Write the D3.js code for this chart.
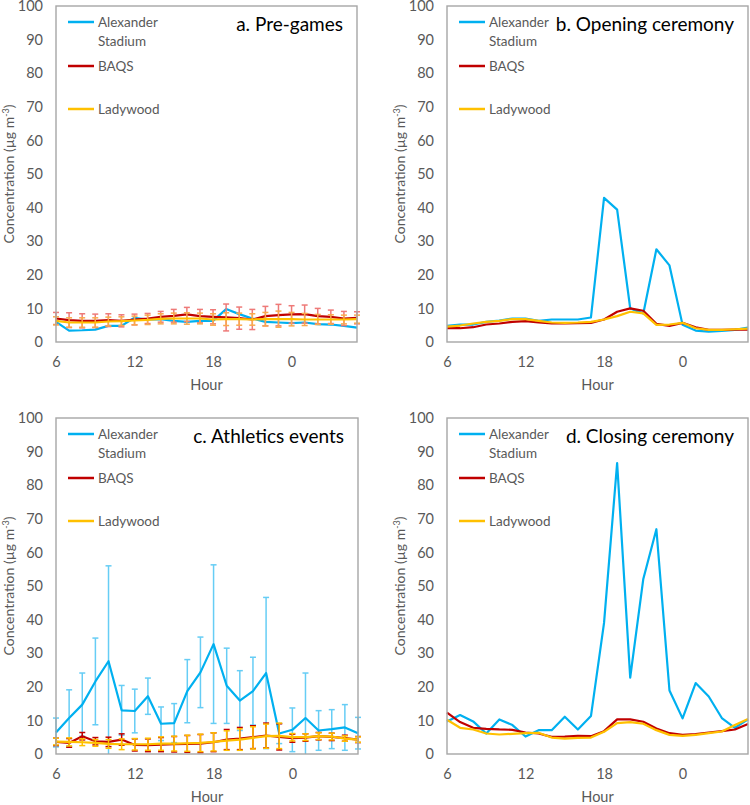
<!DOCTYPE html>
<html>
<head>
<meta charset="utf-8">
<script src="https://cdn.jsdelivr.net/npm/d3@7"></script>
<style>
  body { margin: 0; background: #fff; }
  svg { display: block; font-family: Lato, "Open Sans", sans-serif; }
</style>
</head>
<body>
<svg id="chart" width="750" height="805"></svg>
<script>
// hour of day for each point (6 am to 5 am next day)
var hours = [6,7,8,9,10,11,12,13,14,15,16,17,18,19,20,21,22,23,0,1,2,3,4,5];
var xTickIdx = [0, 6, 12, 18];
var yTicks = [0,10,20,30,40,50,60,70,80,90,100];
var seriesNames = ["Alexander Stadium", "BAQS", "Ladywood"];

// a. Pre-games
var preAlex = [6.0,3.4,3.5,3.7,4.8,4.8,7.2,6.7,6.8,6.3,6.0,6.3,6.3,9.8,8.3,7.0,6.0,5.8,5.6,5.8,5.3,5.2,4.8,4.3];
var preBaqs = [7.0,6.5,6.3,6.3,6.5,6.3,6.7,7.0,7.5,7.8,8.2,7.7,7.5,7.3,7.1,6.7,7.7,8.0,8.2,8.3,7.7,7.5,7.0,7.2];
var preLady = [6.3,5.8,5.8,5.8,6.1,6.2,6.4,6.6,6.9,7.0,7.0,7.0,6.7,6.8,6.8,6.7,6.8,6.8,6.8,6.7,6.7,6.7,6.7,6.8];
var preBaqsSd = [1.8,2.2,2.1,2.0,1.9,1.8,1.6,1.5,1.6,1.9,2.1,2.0,2.1,4.0,3.3,3.0,2.9,3.2,2.6,2.7,2.3,2.0,2.1,1.8];
var preLadySd = [1.2,1.4,1.4,1.4,1.3,1.3,1.3,1.4,1.5,1.6,1.7,1.6,1.7,1.9,1.8,1.7,2.0,2.4,2.0,1.8,1.5,1.4,1.3,1.2];

// b. Opening ceremony
var openAlex = [4.8,5.2,5.2,6.0,6.4,7.0,7.0,6.3,6.7,6.7,6.7,7.3,42.9,39.4,10.0,8.5,27.6,22.8,5.1,3.4,3.1,3.3,3.6,4.3];
var openBaqs = [4.1,4.1,4.4,5.2,5.5,6.0,6.2,5.8,5.5,5.5,5.6,5.7,6.7,9.0,10.0,9.3,5.4,4.8,5.7,4.4,3.6,3.6,3.7,3.7];
var openLady = [4.6,4.9,5.5,6.0,6.3,6.8,6.8,6.3,5.8,5.7,5.8,6.0,6.7,7.7,9.0,8.5,5.1,5.2,5.7,4.1,3.6,3.6,3.8,4.0];

// c. Athletics events
var athAlex = [6.4,10.7,14.7,21.6,27.6,13.0,12.8,17.2,9.0,9.2,18.7,24.3,32.7,20.3,15.9,18.7,24.1,6.1,7.2,10.7,7.0,7.4,7.9,6.2];
var athAlexSd = [4.3,8.4,9.4,12.9,28.4,7.4,6.5,5.4,5.0,5.8,9.4,10.5,23.6,11.2,8.9,10.1,22.5,3.0,6.5,13.4,5.9,5.8,6.8,4.7];
var athBaqs = [3.6,3.3,5.3,3.8,3.6,4.3,2.7,2.6,2.8,2.9,3.0,3.1,3.5,4.3,4.6,5.0,5.5,5.1,4.7,4.9,5.3,5.1,4.7,4.3];
var athBaqsSd = [1.1,1.3,1.1,1.1,1.4,1.7,1.8,1.9,2.1,2.3,2.5,2.7,2.8,3.0,3.3,3.4,3.7,3.9,1.2,1.1,1.1,1.1,0.9,0.9];
var athLady = [3.7,3.6,3.5,3.3,3.0,2.9,2.9,2.9,3.1,3.1,3.2,3.3,3.6,4.0,4.3,4.8,5.3,5.4,5.0,5.0,5.3,5.2,4.6,4.3];
var athLadySd = [1.0,1.2,1.0,1.0,1.3,1.6,1.7,1.8,2.0,2.2,2.4,2.6,2.7,2.9,3.2,3.3,3.6,3.8,1.1,1.0,1.0,1.0,0.8,0.8];

// d. Closing ceremony
var closeAlex = [9.7,11.6,9.7,6.1,10.3,8.6,5.2,7.1,7.1,11.1,7.3,11.3,39.0,86.6,22.7,52.1,66.9,18.9,10.6,21.1,17.1,10.7,7.8,10.3];
var closeBaqs = [12.3,9.5,7.8,7.5,7.3,7.2,6.4,6.1,5.1,5.2,5.4,5.3,6.8,10.3,10.3,9.6,7.6,6.2,5.7,5.9,6.4,6.8,7.3,8.9];
var closeLady = [10.2,7.8,7.3,6.1,5.8,6.0,6.2,6.3,4.9,4.6,4.8,4.9,6.6,9.2,9.5,9.0,7.1,5.7,5.4,5.7,6.2,6.7,8.6,10.4];

var BLUE = "#00b0f0", RED = "#c00000", ORANGE = "#ffc000";
var GREY = "#595959";

var svg = d3.select("#chart");
svg.append("rect").attr("width", 750).attr("height", 805).attr("fill", "#fff");

function drawPanel(p){
    var g = svg.append("g");
    var x = d3.scaleLinear().domain([0, hours.length - 1]).range([p.left, p.right]);
    var y = d3.scaleLinear().domain([0, 100]).range([p.bottom, p.top]);

    //坐标轴
    var yAxis = g.append("g")
        .attr("transform", "translate(" + p.left + ",0)")
        .call(d3.axisLeft(y).tickValues(yTicks).tickSize(0).tickPadding(13));
    yAxis.select(".domain").remove();
    yAxis.selectAll("text").attr("fill", GREY).style("font-size", "14.5px").style("font-family", "Lato");

    var xAxis = g.append("g")
        .attr("transform", "translate(0," + p.bottom + ")")
        .call(d3.axisBottom(x).tickValues(xTickIdx).tickSize(0).tickPadding(15)
            .tickFormat(function(i){ return hours[i]; }));
    xAxis.select(".domain").remove();
    xAxis.selectAll("text").attr("fill", GREY).style("font-size", "14.5px").style("font-family", "Lato");

    var line = d3.line()
        .x(function(d, i){ return x(i); })
        .y(function(d){ return y(d); });

    p.series.forEach(function(s){
        if (s.sd) {
            var eb = g.append("g").attr("stroke", s.errColor).attr("stroke-width", 1.5).attr("fill", "none");
            s.values.forEach(function(v, i){
                var hi = v + s.sd[i], lo = Math.max(0, v - s.sd[i]);
                eb.append("line").attr("x1", x(i)).attr("x2", x(i)).attr("y1", y(hi)).attr("y2", y(lo));
                eb.append("line").attr("x1", x(i) - 3).attr("x2", x(i) + 3).attr("y1", y(hi)).attr("y2", y(hi));
                if (v - s.sd[i] > 0)
                    eb.append("line").attr("x1", x(i) - 3).attr("x2", x(i) + 3).attr("y1", y(lo)).attr("y2", y(lo));
            });
        }
        g.append("path")
            .datum(s.values)
            .attr("d", line)
            .attr("fill", "none")
            .attr("stroke", s.color)
            .attr("stroke-width", 2.2)
            .attr("stroke-linejoin", "round");
    });

    g.append("rect")
        .attr("x", p.left).attr("y", p.top)
        .attr("width", p.right - p.left).attr("height", p.bottom - p.top)
        .attr("fill", "none").attr("stroke", "#a6a6a6").attr("stroke-width", 1.4);

    //标题
    g.append("text")
        .attr("x", p.right - 14).attr("y", p.top + 25)
        .attr("text-anchor", "end")
        .style("font-size", "19px").attr("fill", "#000")
        .text(p.title);

    //图例
    var leg = [
        {name: ["Alexander", "Stadium"], color: BLUE, dy: 16},
        {name: [seriesNames[1]], color: RED, dy: 60},
        {name: [seriesNames[2]], color: ORANGE, dy: 103}
    ];
    leg.forEach(function(l){
        g.append("line")
            .attr("x1", p.left + 12).attr("x2", p.left + 38)
            .attr("y1", p.top + l.dy).attr("y2", p.top + l.dy)
            .attr("stroke", l.color).attr("stroke-width", 2.5);
        l.name.forEach(function(n, k){
            g.append("text")
                .attr("x", p.left + 42).attr("y", p.top + l.dy + k * 19)
                .attr("dy", "0.35em")
                .style("font-size", "13.5px").attr("fill", GREY)
                .text(n);
        });
    });

    var yl = g.append("text")
        .attr("transform", "translate(" + (p.left - 42) + "," + ((p.top + p.bottom) / 2) + ") rotate(-90)")
        .attr("text-anchor", "middle")
        .style("font-size", "14px").attr("fill", GREY);
    yl.append("tspan").text("Concentration (\u00b5g m");
    yl.append("tspan").attr("baseline-shift", "super").style("font-size", "9px").text("-3");
    yl.append("tspan").text(")");

    g.append("text")
        .attr("x", (p.left + p.right) / 2).attr("y", p.bottom + 48)
        .attr("text-anchor", "middle")
        .style("font-size", "14.5px").attr("fill", GREY)
        .text("Hour");
}

var panels = [
    {title: "a. Pre-games", left: 56, right: 357, top: 6, bottom: 342,
     series: [
        {values: preAlex, color: BLUE},
        {values: preBaqs, color: RED, sd: preBaqsSd, errColor: "#ee7a78"},
        {values: preLady, color: ORANGE, sd: preLadySd, errColor: "#f9a94e"}
     ]},
    {title: "b. Opening ceremony", left: 447, right: 748, top: 6, bottom: 342,
     series: [
        {values: openAlex, color: BLUE},
        {values: openBaqs, color: RED},
        {values: openLady, color: ORANGE}
     ]},
    {title: "c. Athletics events", left: 56, right: 358, top: 418, bottom: 754,
     series: [
        {values: athAlex, color: BLUE, sd: athAlexSd, errColor: "#66cdf5"},
        {values: athBaqs, color: RED, sd: athBaqsSd, errColor: "#c00000"},
        {values: athLady, color: ORANGE, sd: athLadySd, errColor: "#ffc000"}
     ]},
    {title: "d. Closing ceremony", left: 447, right: 748, top: 418, bottom: 754,
     series: [
        {values: closeAlex, color: BLUE},
        {values: closeBaqs, color: RED},
        {values: closeLady, color: ORANGE}
     ]}
];
panels.forEach(drawPanel);
</script>
</body>
</html>
